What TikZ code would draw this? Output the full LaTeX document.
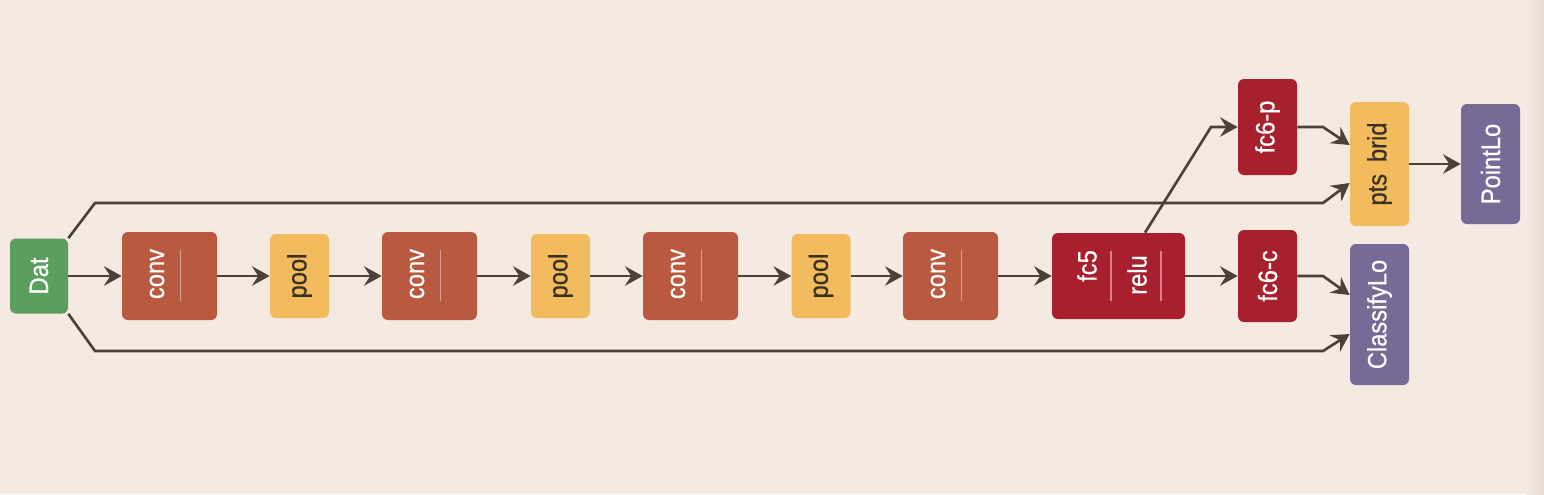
\documentclass[tikz,border=0pt]{standalone}
\usepackage{fontspec}
\newfontfamily\lblfont{Liberation Sans}[FakeBold=0.6]
\usetikzlibrary{arrows.meta,calc}
\definecolor{bg}{HTML}{F5EAE1}
\definecolor{bgdark}{HTML}{E6DCD3}
\definecolor{datgreen}{HTML}{5B9E5E}
\definecolor{convred}{HTML}{B85940}
\definecolor{poolyel}{HTML}{F2BB5E}
\definecolor{fcred}{HTML}{A8202E}
\definecolor{losspurp}{HTML}{786A96}
\definecolor{wire}{HTML}{4E4038}
\definecolor{ink}{HTML}{3A3022}
\newcommand{\vtxt}[1]{\rotatebox{90}{\scalebox{1}[1.12]{#1}}}
\tikzset{
  blk/.style={rounded corners=3.4pt, inner sep=0pt, font=\lblfont\fontsize{13.5}{15}\selectfont, text=white},
  datbox/.style={blk, fill=datgreen, minimum width=58*0.02cm, minimum height=75*0.02cm},
  convbox/.style={blk, fill=convred, minimum width=95*0.02cm, minimum height=88*0.02cm},
  poolbox/.style={blk, fill=poolyel, text=ink, minimum width=59*0.02cm, minimum height=84*0.02cm},
  fcbox/.style={blk, fill=fcred, minimum width=59*0.02cm},
  lossbox/.style={blk, fill=losspurp, minimum width=59*0.02cm},
  lbl/.style={inner sep=0pt, font=\lblfont\fontsize{13.5}{15}\selectfont, text=white},
  sep/.style={draw=white, draw opacity=0.45, line width=0.85pt},
  arr/.style={draw=wire, line width=1.5pt, -{Stealth[length=10pt, width=11pt, inset=3.5pt]}}
}
\begin{document}
\begin{tikzpicture}[x=0.02cm, y=-0.02cm]
\fill[bg] (0,0) rectangle (1544,494);
\shade[left color=bg, right color=bgdark] (1526,0) rectangle (1544,494);
\useasboundingbox (0,0) rectangle (1544,494);

\node[datbox] (dat) at (39,276) {\vtxt{Dat}};
\node[convbox] (conv1) at (169.5,276) {};
\node[poolbox] (pool1) at (299.5,276) {\vtxt{pool}};
\node[convbox] (conv2) at (429.5,276) {};
\node[poolbox] (pool2) at (560.5,276) {\vtxt{pool}};
\node[convbox] (conv3) at (690.5,276) {};
\node[poolbox] (pool3) at (821,276) {\vtxt{pool}};
\node[convbox] (conv4) at (950.5,276) {};
\node[blk, fill=fcred, minimum width=133*0.02cm, minimum height=86*0.02cm] (fc5) at (1118.5,276) {};
\node[fcbox, minimum height=96*0.02cm] (fc6p) at (1267.5,127) {\vtxt{fc6-p}};
\node[fcbox, minimum height=92*0.02cm] (fc6c) at (1267.5,276) {\vtxt{fc6-c}};
\node[poolbox, minimum height=124*0.02cm] (pts) at (1379.5,164) {\vtxt{pts\enspace brid}};
\node[lossbox, minimum height=141*0.02cm] (cls) at (1379.5,314.5) {\vtxt{ClassifyLo}};
\node[lossbox, minimum height=120*0.02cm] (ploss) at (1490.5,164) {\vtxt{PointLo}};

\node[lbl] (conv1-l) at (157,274) {\vtxt{conv}};
\node[lbl] (conv2-l) at (417,274) {\vtxt{conv}};
\node[lbl] (conv3-l) at (678,274) {\vtxt{conv}};
\node[lbl] (conv4-l) at (938,274) {\vtxt{conv}};
\node[lbl] (fc5-l) at (1087,266) {\vtxt{fc5}};
\node[lbl] (relu-l) at (1137,275) {\vtxt{relu}};

\draw[sep] (180.5,250) -- (180.5,301);
\draw[sep] (440.5,250) -- (440.5,301);
\draw[sep] (701.5,250) -- (701.5,301);
\draw[sep] (961.5,250) -- (961.5,301);
\draw[sep] (1111,251) -- (1111,301);
\draw[sep] (1161,251) -- (1161,301);

\path[every edge/.style=arr]
(dat.east) edge (conv1.west)
(conv1.east) edge (pool1.west)
(pool1.east) edge (conv2.west)
(conv2.east) edge (pool2.west)
(pool2.east) edge (conv3.west)
(conv3.east) edge (pool3.west)
(pool3.east) edge (conv4.west)
(conv4.east) edge (fc5.west)
(fc5.east) edge (fc6c.west)
(pts.east) edge (ploss.west);

\draw[arr] ($(fc5.north)+(26.5,0)$) -- (1211,127) -- (fc6p.west);
\draw[arr] (fc6p.east) -- (1323,127) -- ($(pts.west)+(0,-19)$);
\draw[arr] (dat.north east) -- (95,203) -- (1323,203) -- ($(pts.west)+(0,19)$);
\draw[arr] (fc6c.east) -- (1323,276) -- ($(cls.west)+(0,-19.5)$);
\draw[arr] (dat.south east) -- (95,351) -- (1323,351) -- ($(cls.west)+(0,19.5)$);
\end{tikzpicture}
\end{document}
